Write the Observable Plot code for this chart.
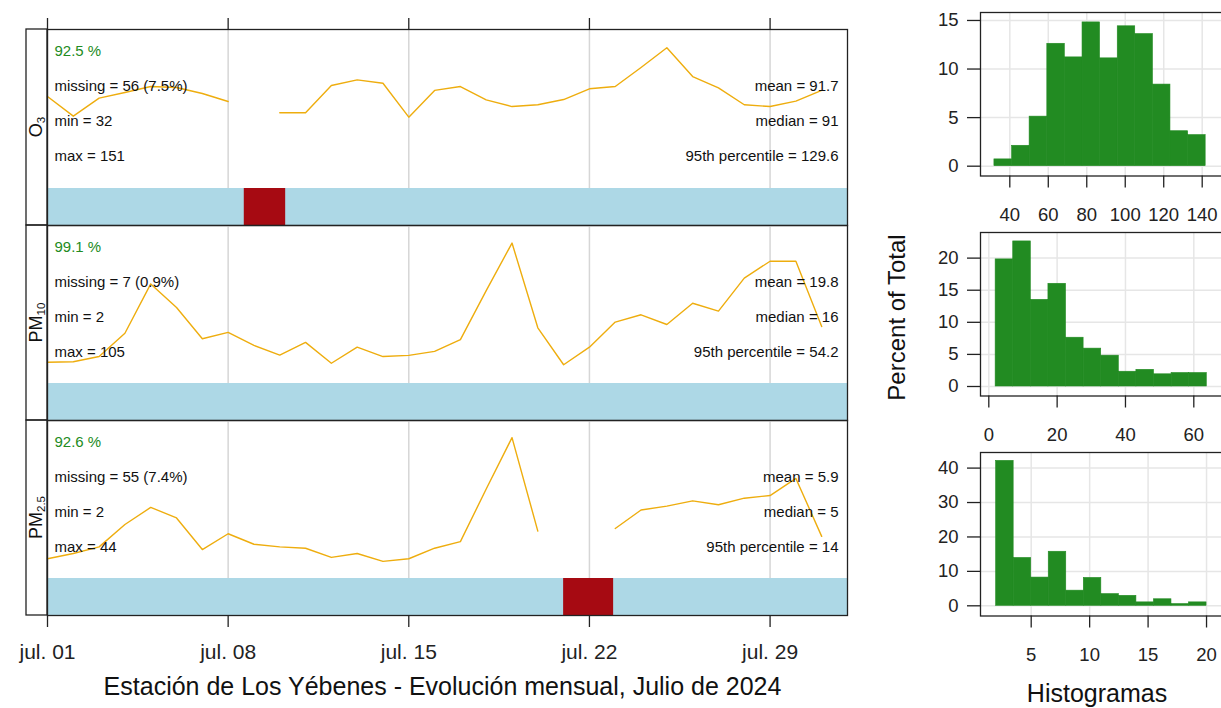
<!DOCTYPE html>
<html>
<head>
<meta charset="utf-8">
<script src="https://cdn.jsdelivr.net/npm/d3@7"></script>
<script src="https://cdn.jsdelivr.net/npm/@observablehq/plot@0.6"></script>
<style>
html, body { margin: 0; padding: 0; background: #fff; overflow: hidden; }
#chart { position: relative; width: 1221px; height: 708px; overflow: hidden; background: #fff;
  font-family: "Liberation Sans", Arial, Helvetica, sans-serif; }
</style>
</head>
<body>
<div id="chart"></div>
<script>
// ---------------- DATA ----------------
const pollutants = ["O3", "PM10", "PM2.5"];
const days = ["2024-07-01","2024-07-02","2024-07-03","2024-07-04","2024-07-05","2024-07-06","2024-07-07","2024-07-08",
  "2024-07-09","2024-07-10","2024-07-11","2024-07-12","2024-07-13","2024-07-14","2024-07-15","2024-07-16",
  "2024-07-17","2024-07-18","2024-07-19","2024-07-20","2024-07-21","2024-07-22","2024-07-23","2024-07-24",
  "2024-07-25","2024-07-26","2024-07-27","2024-07-28","2024-07-29","2024-07-30","2024-07-31"];
// daily means
const o3Daily   = [88.5, 76.4, 87.5, 90.9, 94.6, 94.0, 90.3, 85.4, null, 78.5, 78.5, 95.2, 98.7, 96.6, 75.8, 92.2,
                   94.6, 86.4, 82.3, 83.4, 86.6, 93.2, 94.6, 106.3, 118.4, 100.7, 93.8, 83.4, 82.3, 85.6, 92.2];
const pm10Daily = [9.0, 9.2, 10.9, 18.6, 34.9, 27.1, 16.8, 18.9, 14.6, 11.4, 15.6, 8.7, 14.0, 10.9, 11.3, 12.6,
                   16.5, 32.7, 48.4, 20.4, 8.2, 14.0, 22.3, 24.7, 21.5, 28.5, 25.9, 36.8, 42.4, 42.4, 20.8];
const pm25Daily = [3.5, 3.9, 4.4, 6.1, 7.4, 6.6, 4.2, 5.4, 4.6, 4.4, 4.3, 3.6, 3.9, 3.3, 3.5, 4.3,
                   4.8, 8.8, 12.7, 5.6, null, null, 5.8, 7.2, 7.5, 7.9, 7.6, 8.1, 8.3, 9.6, 5.2];

// summary statistics
const capturePct = ["92.5", "99.1", "92.6"];
const missingN   = [56, 7, 55];
const missingPct = ["7.5", "0.9", "7.4"];
const minVals    = [32, 2, 2];
const maxVals    = [151, 105, 44];
const meanVals   = ["91.7", "19.8", "5.9"];
const medianVals = [91, 16, 5];
const p95Vals    = ["129.6", "54.2", "14"];

// missing-data periods (red blocks)
const missPollutant = ["O3", "PM2.5"];
const missStart = ["2024-07-08T15:00:00Z", "2024-07-21T00:00:00Z"];
const missEnd   = ["2024-07-10T05:30:00Z", "2024-07-22T22:30:00Z"];

// date axis
const tickDates  = ["2024-07-01", "2024-07-08", "2024-07-15", "2024-07-22", "2024-07-29"];
const tickLabels = ["jul. 01", "jul. 08", "jul. 15", "jul. 22", "jul. 29"];

// histograms (percent of total)
const o3Edges   = [32, 41.2, 50.3, 59.5, 68.6, 77.8, 86.9, 96.1, 105.2, 114.4, 123.5, 132.7, 141.8];
const o3Pct     = [0.7, 2.1, 5.1, 12.6, 11.2, 14.8, 11.1, 14.4, 13.6, 8.4, 3.6, 3.2];
const pm10Edges = [2, 7.15, 12.3, 17.45, 22.6, 27.75, 32.9, 38.05, 43.2, 48.35, 53.5, 58.65, 63.8];
const pm10Pct   = [19.8, 22.6, 13.5, 16.0, 7.6, 5.9, 4.8, 2.3, 2.6, 1.9, 2.1, 2.1];
const pm25Edges = [2, 3.5, 5, 6.5, 8, 9.5, 11, 12.5, 14, 15.5, 17, 18.5, 20];
const pm25Pct   = [42.1, 13.9, 8.2, 15.7, 4.4, 8.1, 3.4, 2.9, 1.0, 1.9, 0.5, 1.0];
const histTicksX = [[40, 60, 80, 100, 120, 140], [0, 20, 40, 60], [5, 10, 15, 20]];
const histTicksY = [[0, 5, 10, 15], [0, 5, 10, 15, 20], [0, 10, 20, 30, 40]];

// ---------------- LAYOUT / STYLE ----------------
const FONT = '"Liberation Sans", Arial, Helvetica, sans-serif';
const INK = "#222";
const chart = document.getElementById("chart");
const series = [o3Daily, pm10Daily, pm25Daily];
const lineRange = [[32, 129.6], [2, 54.2], [2, 14]];   // value span of the line area
const panelTops = [29, 225, 420];
const panelHeights = [196, 195, 195];
const barH = 37;
const xDomain = [new Date("2024-07-01T00:00:00Z"), new Date("2024-08-01T00:00:00Z")];
const tickD = tickDates.map(d => new Date(d + "T00:00:00Z"));
const rowDy = [15.4, 50.4, 85.4, 120.4];

function place(svg, left, top) {
  svg.style.position = "absolute";
  svg.style.left = left + "px";
  svg.style.top = top + "px";
  svg.style.overflow = "visible";
  svg.style.background = "transparent";
  svg.style.maxWidth = "none";
  chart.appendChild(svg);
}

// ---------------- TIME-SERIES PANELS ----------------
pollutants.forEach((key, i) => {
  const h = panelHeights[i];
  const mt = i === 0 ? 29 : 0;
  const mb = i === 2 ? 50 : 0;
  const [lo, hi] = lineRange[i];
  const yLow = lo - (hi - lo) * barH / (h - barH);
  const rows = days.map((d, j) => ({date: new Date(d + "T00:00:00Z"), value: series[i][j]}));
  const miss = missStart.map((s, k) => ({p: missPollutant[k], x1: new Date(s), x2: new Date(missEnd[k])}))
                        .filter(m => m.p === key);
  const leftLabels = [`${capturePct[i]} %`, `missing = ${missingN[i]} (${missingPct[i]}%)`,
                      `min = ${minVals[i]}`, `max = ${maxVals[i]}`];
  const rightLabels = [`mean = ${meanVals[i]}`, `median = ${medianVals[i]}`, `95th percentile = ${p95Vals[i]}`];

  const marks = [
    Plot.ruleX(tickD, {stroke: "#d6d6d6", strokeWidth: 1.5}),
    Plot.rect([{x1: xDomain[0], x2: xDomain[1]}], {x1: "x1", x2: "x2", y1: () => yLow, y2: () => lo, fill: "lightblue", inset: 0}),
    Plot.rect(miss, {x1: "x1", x2: "x2", y1: () => yLow, y2: () => lo, fill: "#A60A12", inset: 0}),
    Plot.line(rows, {x: "date", y: "value", stroke: "#EEAD0E", strokeWidth: 1.4}),
    ...leftLabels.map((t, k) => Plot.text([t], {text: d => d, frameAnchor: "top-left", dx: 7, dy: rowDy[k],
        lineAnchor: "top", fontSize: 15, fill: k === 0 ? "forestgreen" : "#111"})),
    ...rightLabels.map((t, k) => Plot.text([t], {text: d => d, frameAnchor: "top-right", dx: -9, dy: rowDy[k + 1],
        lineAnchor: "top", fontSize: 15, fill: "#111"})),
    Plot.frame({stroke: INK, strokeWidth: 1.3})
  ];
  if (i === 0) marks.push(Plot.axisX(tickD, {anchor: "top", tickSize: 12, tickFormat: () => "", label: null, strokeWidth: 1.3}));
  if (i === 2) marks.push(Plot.axisX(tickD, {anchor: "bottom", tickSize: 12, tickPadding: 17, fontSize: 21, label: null,
      strokeWidth: 1.3, tickFormat: d => tickLabels[tickD.findIndex(t => +t === +d)]}));

  const svg = Plot.plot({
    width: 860, height: mt + h + mb,
    marginTop: mt, marginBottom: mb, marginLeft: 47, marginRight: 13,
    x: {type: "utc", domain: xDomain, axis: null, label: null},
    y: {domain: [yLow, hi], axis: null, label: null},
    style: {fontFamily: FONT, fontSize: "15px", color: INK, background: "transparent", overflow: "visible"},
    marks
  });
  place(svg, 0, panelTops[i] - mt);
});

// ---------------- HISTOGRAMS ----------------
const histEdges = [o3Edges, pm10Edges, pm25Edges];
const histPct = [o3Pct, pm10Pct, pm25Pct];
const histFrameTops = [12, 231.7, 451.7];
const histX = [[24.77, 154.71], [-2.43, 70.74], [0.663, 22.05]];
const histY = [[-1.01, 15.82], [-1.48, 23.99], [-2.96, 44.53]];
const histPlotH = 163.5;

histPct.forEach((pcts, i) => {
  const bins = pcts.map((p, k) => ({x1: histEdges[i][k], x2: histEdges[i][k + 1], pct: p}));
  const svg = Plot.plot({
    width: 330, height: 12 + histPlotH + 50,
    marginTop: 12, marginBottom: 50, marginLeft: 80, marginRight: 0,
    x: {domain: histX[i], axis: null, label: null},
    y: {domain: histY[i], axis: null, label: null},
    style: {fontFamily: FONT, fontSize: "18.5px", color: INK, background: "transparent", overflow: "visible"},
    marks: [
      Plot.gridX(histTicksX[i], {stroke: "#e6e6e6", strokeOpacity: 1, strokeWidth: 1.5}),
      Plot.gridY(histTicksY[i], {stroke: "#e6e6e6", strokeOpacity: 1, strokeWidth: 1.5}),
      Plot.rectY(bins, {x1: "x1", x2: "x2", y: "pct", fill: "#228B22", stroke: "#228B22", strokeWidth: 0.6, inset: 0}),
      Plot.frame({stroke: INK, strokeWidth: 1.3}),
      Plot.axisX(histTicksX[i], {anchor: "bottom", tickSize: 12, tickPadding: 19.4, fontSize: 18.5, label: null, strokeWidth: 1.3}),
      Plot.axisY(histTicksY[i], {anchor: "left", tickSize: 13, tickPadding: 9, fontSize: 18.5, label: null, strokeWidth: 1.3})
    ]
  });
  place(svg, 900, histFrameTops[i] - 12);
});

// ---------------- TEXT OVERLAY (strips, titles) ----------------
const overlay = d3.create("svg").attr("width", 1221).attr("height", 708)
  .style("position", "absolute").style("left", "0px").style("top", "0px")
  .style("pointer-events", "none").style("font-family", FONT);

const stripMain = ["O", "PM", "PM"];
const stripSub = ["3", "10", "2.5"];
pollutants.forEach((key, i) => {
  const top = panelTops[i], h = panelHeights[i];
  overlay.append("rect").attr("x", 26).attr("y", top).attr("width", 21).attr("height", h)
    .attr("fill", "none").attr("stroke", INK).attr("stroke-width", 1.3);
  const t = overlay.append("text")
    .attr("transform", `translate(41.5,${top + h / 2}) rotate(-90)`)
    .attr("text-anchor", "middle").attr("font-size", 18).attr("fill", "#111");
  t.append("tspan").text(stripMain[i]);
  t.append("tspan").attr("dy", 3.5).attr("font-size", 11.5).text(stripSub[i]);
});

overlay.append("text").attr("x", 442.5).attr("y", 695).attr("text-anchor", "middle")
  .attr("font-size", 25).attr("fill", "#111")
  .text("Estación de Los Yébenes - Evolución mensual, Julio de 2024");
overlay.append("text").attr("x", 1097).attr("y", 702).attr("text-anchor", "middle")
  .attr("font-size", 25).attr("fill", "#111").text("Histogramas");
overlay.append("text").attr("transform", "translate(905,317.5) rotate(-90)").attr("text-anchor", "middle")
  .attr("font-size", 24).attr("fill", "#111").text("Percent of Total");

chart.appendChild(overlay.node());
</script>
</body>
</html>
